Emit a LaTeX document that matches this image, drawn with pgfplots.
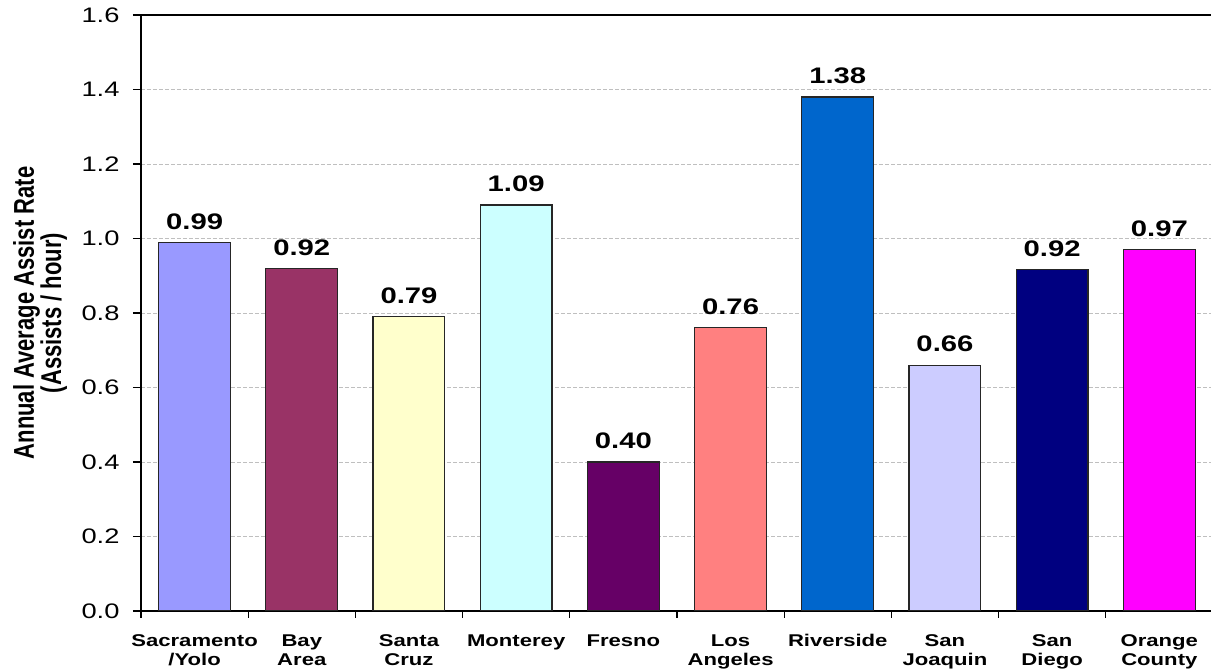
\documentclass[border=0pt]{standalone}
\usepackage{fontspec}
\setmainfont[FakeStretch=1.3]{Liberation Sans}
\newfontfamily\ylabfont{Liberation Sans}
\usepackage{graphicx}
\usepackage{pgfplots}
\pgfplotsset{compat=1.18}
\definecolor{c1}{HTML}{9999FF}
\definecolor{c2}{HTML}{993366}
\definecolor{c3}{HTML}{FFFFCC}
\definecolor{c4}{HTML}{CCFFFF}
\definecolor{c5}{HTML}{660066}
\definecolor{c6}{HTML}{FF8080}
\definecolor{c7}{HTML}{0066CC}
\definecolor{c8}{HTML}{CCCCFF}
\definecolor{c9}{HTML}{000080}
\definecolor{c10}{HTML}{FF00FF}
\begin{document}
\begin{tikzpicture}
\begin{axis}[
  name=ax,
  scale only axis,
  width=1072pt, height=596pt,
  xmin=-0.5, xmax=9.5,
  ymin=0, ymax=1.6,
  ybar,
  bar width=0.67,
  axis line style={line width=2.4pt},
  ytick={0,0.2,0.4,0.6,0.8,1.0,1.2,1.4,1.6},
  yticklabel style={/pgf/number format/fixed,/pgf/number format/precision=1,/pgf/number format/fixed zerofill,/pgf/number format/assume math mode=true, font=\fontsize{21}{25}\selectfont, xshift=-10pt},
  ytick pos=left,
  tick align=outside,
  major tick length=8pt,
  tick style={line width=1.2pt, black},
  ymajorgrids,
  grid style={dash pattern=on 4pt off 2pt, line width=0.8pt, gray!50},
  xtick={0,1,2,3,4,5,6,7,8,9},
  xtick pos=bottom,
  xtick style={draw=none},
  xticklabels={{Sacramento\\/Yolo},{Bay\\Area},{Santa\\Cruz},{Monterey},{Fresno},{Los\\Angeles},{Riverside},{San\\Joaquin},{San\\Diego},{Orange\\County}},
  xticklabel style={align=center, font=\fontsize{17}{19}\selectfont\bfseries, anchor=north, yshift=-12pt},
  extra x ticks={-0.5,0.5,1.5,2.5,3.5,4.5,5.5,6.5,7.5,8.5,9.5},
  extra x tick labels={},
  extra x tick style={xtick style={draw=black, line width=1.2pt}, major tick length=7pt, grid=none},
  ylabel={\scalebox{1}[1.3]{\ylabfont\bfseries\fontsize{22}{20}\selectfont\begin{tabular}{@{}c@{}}Annual Average Assist Rate\\[-1pt](Assists / hour)\end{tabular}}},
  ylabel shift=9pt,
  ylabel style={inner sep=0pt},
  nodes near coords,
  nodes near coords style={font=\fontsize{22.5}{26}\selectfont\bfseries, anchor=south, yshift=9pt, /pgf/number format/fixed, /pgf/number format/precision=2, /pgf/number format/fixed zerofill, /pgf/number format/assume math mode=true},
  every axis plot/.append style={bar shift=0pt, draw=black!85, line width=1.2pt},
]
\addplot[fill=c1] coordinates {(0,0.99)};
\addplot[fill=c2] coordinates {(1,0.92)};
\addplot[fill=c3] coordinates {(2,0.79)};
\addplot[fill=c4] coordinates {(3,1.09)};
\addplot[fill=c5] coordinates {(4,0.40)};
\addplot[fill=c6] coordinates {(5,0.76)};
\addplot[fill=c7] coordinates {(6,1.38)};
\addplot[fill=c8] coordinates {(7,0.66)};
\addplot[fill=c9] coordinates {(8,0.917)};
\addplot[fill=c10] coordinates {(9,0.97)};
\end{axis}
\pgfresetboundingbox
\path[use as bounding box] ([shift={(-141pt,-58pt)}]ax.south west) rectangle ([shift={(1070pt,15pt)}]ax.north west);
\end{tikzpicture}
\end{document}
